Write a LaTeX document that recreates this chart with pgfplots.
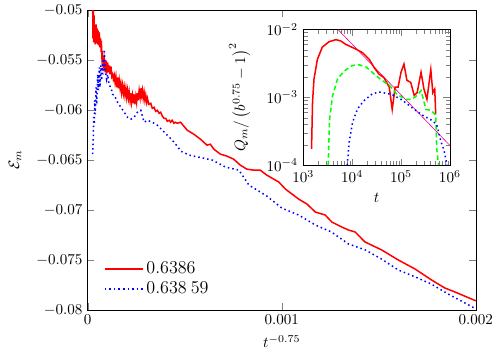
\documentclass[border=0pt]{standalone}
\usepackage{pgfplots}
\pgfplotsset{compat=1.18}
\pgfplotsset{longlegend/.style={legend image code/.code={\draw[##1] (0cm,0cm) -- (0.88cm,0cm);}}}

\begin{document}
\begin{tikzpicture}
\begin{axis}[
 name=main,
 scale only axis,
 width=257.5pt,
 height=198.6pt,
 xmin=0, xmax=0.002,
 ymin=-0.08, ymax=-0.05,
 xtick={0,0.001,0.002},
 ytick={-0.08,-0.075,-0.07,-0.065,-0.06,-0.055,-0.05},
 scaled x ticks=false,
 scaled y ticks=false,
 xticklabel style={/pgf/number format/fixed,/pgf/number format/precision=3},
 yticklabel style={/pgf/number format/fixed,/pgf/number format/precision=3},
 xlabel={$t^{-0.75}$},
 ylabel={$\mathcal{E}_m$},
 ylabel style={yshift=3pt},
 tick align=inside,
 legend style={draw=none, fill=none, at={(0.03,0.025)}, anchor=south west,
   font=\large},
 legend cell align=left,
]
\addplot[red, line width=1pt, longlegend] coordinates {
 (25.6e-6,-0.0495) (27e-6,-0.0528) (29e-6,-0.0500) (30.8e-6,-0.0532)
 (32.5e-6,-0.0505) (34.2e-6,-0.0530) (36e-6,-0.0515) (38e-6,-0.0534)
 (42.7e-6,-0.0514) (45e-6,-0.0533) (47.9e-6,-0.0518) (51.3e-6,-0.0534)
 (54e-6,-0.0520) (56.4e-6,-0.0535) (59.8e-6,-0.0522) (63e-6,-0.0537)
 (66e-6,-0.0528) (68.4e-6,-0.0537) (71e-6,-0.0535) (73.5e-6,-0.0548)
 (76.9e-6,-0.0545) (80e-6,-0.0556) (85.5e-6,-0.0549) (90e-6,-0.0562)
 (94e-6,-0.0550) (98e-6,-0.0563) (102.6e-6,-0.0552) (107e-6,-0.0562)
 (111e-6,-0.0555) (115e-6,-0.0564) (119.7e-6,-0.0556) (124e-6,-0.0566)
 (128.2e-6,-0.0564) (132e-6,-0.0569) (136.8e-6,-0.0565) (141e-6,-0.0572)
 (145.3e-6,-0.0566) (150e-6,-0.0577) (153.8e-6,-0.0567) (158e-6,-0.0578)
 (162.4e-6,-0.0570) (167e-6,-0.0578) (170.9e-6,-0.0573) (175e-6,-0.0582)
 (179.5e-6,-0.0575) (184e-6,-0.0583) (188e-6,-0.0577) (192e-6,-0.0585)
 (196.6e-6,-0.0578) (201e-6,-0.0587) (205.1e-6,-0.0580) (210e-6,-0.0588)
 (213.7e-6,-0.0582) (218e-6,-0.0590) (222.2e-6,-0.0583) (226e-6,-0.0592)
 (230.8e-6,-0.0585) (235e-6,-0.0593) (239.3e-6,-0.0584) (243e-6,-0.0594)
 (247.9e-6,-0.0586) (252e-6,-0.0592) (256.4e-6,-0.0583) (260e-6,-0.0590)
 (265e-6,-0.0580) (270e-6,-0.0587) (273.5e-6,-0.0578) (278e-6,-0.0585)
 (282e-6,-0.0580) (286e-6,-0.0588) (290.6e-6,-0.0582) (295e-6,-0.0590)
 (299.1e-6,-0.0585) (304e-6,-0.0592) (307.7e-6,-0.0588) (315e-6,-0.0594)
 (324.8e-6,-0.0593) (333e-6,-0.0598) (341.9e-6,-0.0597) (350e-6,-0.0601)
 (359e-6,-0.0600) (368e-6,-0.0603) (376e-6,-0.0602) (385e-6,-0.0606)
 (393.2e-6,-0.0608) (402e-6,-0.0608) (410.3e-6,-0.0611) (420e-6,-0.0610)
 (427.4e-6,-0.0612) (435e-6,-0.0610) (444.4e-6,-0.0613) (452e-6,-0.0612)
 (461.5e-6,-0.0613) (478.6e-6,-0.0612) (512.8e-6,-0.0620) (547e-6,-0.0624)
 (581e-6,-0.0629) (615e-6,-0.0635) (632e-6,-0.0634) (650e-6,-0.0639)
 (684e-6,-0.0644) (718e-6,-0.0646) (752e-6,-0.0649) (786e-6,-0.0655)
 (820e-6,-0.0659) (855e-6,-0.0660) (889e-6,-0.0660) (923e-6,-0.0665)
 (985e-6,-0.0672) (1019e-6,-0.0679) (1087e-6,-0.0689) (1130e-6,-0.0694)
 (1173e-6,-0.0702) (1224e-6,-0.0705) (1258e-6,-0.0712) (1309e-6,-0.0717)
 (1344e-6,-0.0720) (1378e-6,-0.0722) (1429e-6,-0.0732) (1515e-6,-0.0740)
 (1600e-6,-0.0750) (1686e-6,-0.0759) (1771e-6,-0.0770) (1839e-6,-0.0778)
 (1891e-6,-0.0782) (2000e-6,-0.0791)
};
\addlegendentry{$0.6386$}
\addplot[blue, line width=1pt, dotted, longlegend] coordinates {
 (25.6e-6,-0.0644) (29e-6,-0.0624) (30.8e-6,-0.0607) (34.2e-6,-0.0614)
 (35.9e-6,-0.0590) (39.3e-6,-0.0604) (42.7e-6,-0.0577) (46.2e-6,-0.0594)
 (51.3e-6,-0.0564) (54.7e-6,-0.0580) (59.8e-6,-0.0557) (63.2e-6,-0.0577)
 (68.4e-6,-0.0555) (71.8e-6,-0.0570) (76.9e-6,-0.0550) (80.3e-6,-0.0564)
 (85.5e-6,-0.0539) (90.6e-6,-0.0560) (97.4e-6,-0.0569) (102.6e-6,-0.0564)
 (111e-6,-0.0575) (119.7e-6,-0.0577) (128.2e-6,-0.0584) (136.8e-6,-0.0585)
 (153.8e-6,-0.0592) (170.9e-6,-0.0597) (188e-6,-0.0602) (205e-6,-0.0607)
 (222e-6,-0.0609) (239e-6,-0.0607) (256e-6,-0.0602) (273.5e-6,-0.0600)
 (290.6e-6,-0.0612) (307.7e-6,-0.0610) (333e-6,-0.0612) (359e-6,-0.0615)
 (385e-6,-0.0620) (410e-6,-0.0625) (436e-6,-0.0630) (461.5e-6,-0.0636)
 (480e-6,-0.0641) (523e-6,-0.0645) (574e-6,-0.0647) (643e-6,-0.0650)
 (711e-6,-0.0657) (779e-6,-0.0660) (831e-6,-0.0675) (923e-6,-0.0686)
 (1000e-6,-0.0698) (1087e-6,-0.0705) (1173e-6,-0.0715) (1256e-6,-0.0722)
 (1344e-6,-0.0734) (1431e-6,-0.0740) (1513e-6,-0.0749) (1600e-6,-0.0760)
 (1687e-6,-0.0767) (1769e-6,-0.0774) (1856e-6,-0.0784) (2000e-6,-0.0799)
};
\addlegendentry{$0.638\:59$}
\end{axis}

\begin{axis}[
 at={(main.south west)},
 xshift=143pt, yshift=96pt,
 anchor=south west,
 scale only axis,
 width=97.3pt,
 height=90pt,
 xmode=log, ymode=log,
 xmin=1e3, xmax=1e6,
 ymin=1e-4, ymax=1e-2,
 xtick={1e3,1e4,1e5,1e6},
 ytick={1e-4,1e-3,1e-2},
 tick align=inside,
 xlabel={$t$},
 ylabel={$Q_m/\left(b^{0.75}-1\right)^2$},
 ylabel style={yshift=4pt},
]
\addplot[magenta, thin] coordinates {(5129,1e-2) (1e6,1.95e-4)};
\addplot[red, line width=1pt] coordinates {
 (1479,1.74e-4) (1549,8.51e-4) (1660,1.86e-3) (1950,3.63e-3) (2455,5.50e-3)
 (3388,6.61e-3) (4677,7.08e-3) (5888,6.76e-3) (7413,6.03e-3) (1.20e4,5.13e-3)
 (1.62e4,4.57e-3) (2.24e4,3.63e-3) (2.82e4,2.75e-3) (3.55e4,2.19e-3)
 (4.47e4,1.95e-3) (5.75e4,1.41e-3) (6.61e4,6.61e-4) (7.59e4,1.41e-3)
 (8.71e4,1.41e-3) (1.0e5,2.34e-3) (1.15e5,3.09e-3) (1.32e5,1.78e-3)
 (1.58e5,1.66e-3) (1.86e5,1.07e-3) (2.14e5,1.17e-3) (2.57e5,2.34e-3)
 (2.95e5,1.32e-3) (3.39e5,9.33e-4) (4.07e5,2.57e-3) (4.47e5,1.17e-3)
 (4.90e5,1.32e-3) (5.13e5,5.62e-4)
};
\addplot[green, line width=1pt, densely dashed] coordinates {
 (3236,1.0e-4) (3467,4.79e-4) (3981,1.05e-3) (5012,1.86e-3) (6918,2.45e-3)
 (1.02e4,2.95e-3) (1.38e4,3.02e-3) (1.91e4,2.82e-3) (2.57e4,2.34e-3)
 (3.89e4,1.82e-3) (5.75e4,1.51e-3) (8.32e4,1.10e-3) (1.26e5,9.33e-4)
 (1.66e5,9.33e-4) (2.14e5,1.07e-3) (2.57e5,1.26e-3) (3.24e5,6.61e-4)
 (4.07e5,6.46e-4) (5.13e5,5.50e-4) (5.37e5,1.74e-4) (5.89e5,1.0e-4)
};
\addplot[blue, line width=1pt, dotted] coordinates {
 (7943,1.0e-4) (8710,2.19e-4) (1.02e4,4.27e-4) (1.29e4,6.76e-4)
 (1.74e4,8.91e-4) (2.57e4,1.12e-3) (3.55e4,1.20e-3) (6.61e4,1.10e-3)
 (1.05e5,9.12e-4) (1.66e5,7.08e-4) (2.69e5,5.50e-4) (4.27e5,4.57e-4)
 (5.37e5,3.98e-4) (6.61e5,2.19e-4) (7.59e5,1.66e-4) (8.71e5,1.0e-4)
};
\end{axis}
\path (main.south west) ++(-58.2pt,0pt) coordinate (padleft);
\end{tikzpicture}
\end{document}
